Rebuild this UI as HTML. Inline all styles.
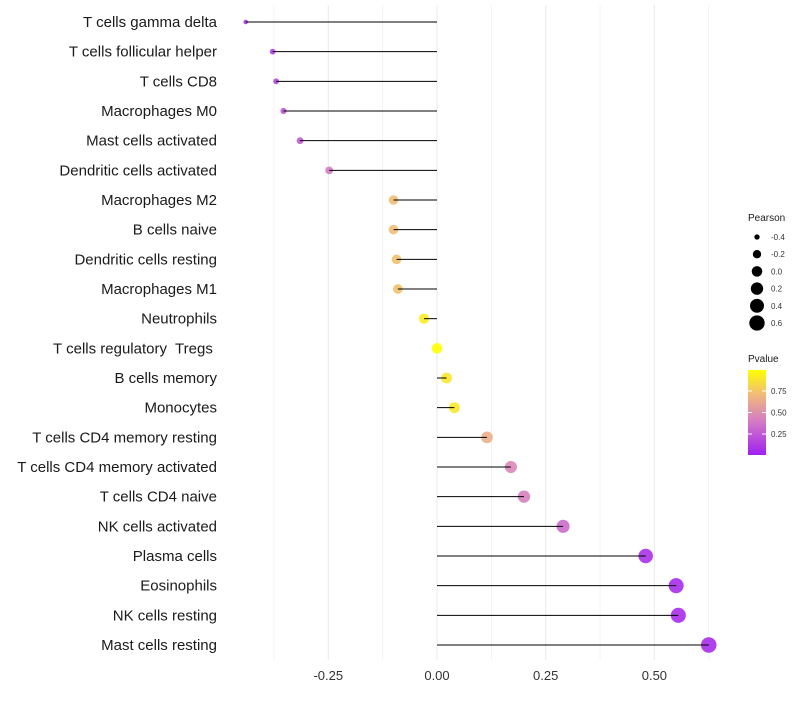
<!DOCTYPE html>
<html><head><meta charset="utf-8"><style>
body{margin:0;background:#fff;font-family:"Liberation Sans",sans-serif}
text{white-space:pre}
</style></head><body>
<svg id="c" width="800" height="700" style="font-family:'Liberation Sans',sans-serif">
<defs><linearGradient id="pg" x1="0" y1="1" x2="0" y2="0">
<stop offset="0" stop-color="#a020f0"/><stop offset="0.4" stop-color="#d47cc4"/><stop offset="0.7" stop-color="#f0b87c"/><stop offset="1" stop-color="#ffff00"/></linearGradient></defs>
</svg>
<script>
const categories=["T cells gamma delta","T cells follicular helper","T cells CD8","Macrophages M0","Mast cells activated","Dendritic cells activated","Macrophages M2","B cells naive","Dendritic cells resting","Macrophages M1","Neutrophils","T cells regulatory  Tregs ","B cells memory","Monocytes","T cells CD4 memory resting","T cells CD4 memory activated","T cells CD4 naive","NK cells activated","Plasma cells","Eosinophils","NK cells resting","Mast cells resting"];
const pearson=[-0.44,-0.378,-0.37,-0.353,-0.315,-0.248,-0.1,-0.1,-0.093,-0.09,-0.03,0.0,0.022,0.04,0.115,0.17,0.2,0.29,0.48,0.55,0.555,0.625];
const pvalues=[0.1,0.15,0.17,0.22,0.25,0.4,0.72,0.72,0.74,0.74,0.92,1.0,0.9,0.9,0.65,0.45,0.42,0.33,0.08,0.05,0.05,0.05];
const xTicks=[-0.25,0,0.25,0.5];
const xTickLabels=["-0.25","0.00","0.25","0.50"];
const sizeLegend=[-0.4,-0.2,0.0,0.2,0.4,0.6];
const sizeLegendLabels=["-0.4","-0.2","0.0","0.2","0.4","0.6"];
const colorTicks=[0.25,0.5,0.75];
const NS="http://www.w3.org/2000/svg",svg=document.getElementById('c');
const X=v=>437+v*434.8;
const Y=i=>22+i*29.667;
const R=v=>Math.sqrt(Math.max(1,5+52*(v+0.44)));
function col(p){const s=[[0,[160,32,240]],[0.4,[212,124,196]],[0.7,[240,184,124]],[1,[255,255,0]]];
 for(let k=1;k<s.length;k++){if(p<=s[k][0]){const t=(p-s[k-1][0])/(s[k][0]-s[k-1][0]);const a=s[k-1][1],b=s[k][1];return `rgb(${a.map((x,j)=>Math.round(x+(b[j]-x)*t)).join(',')})`;}}return 'rgb(255,255,0)';}
function el(t,a,txt){const e=document.createElementNS(NS,t);for(const k in a)e.setAttribute(k,a[k]);if(txt!==undefined)e.textContent=txt;svg.appendChild(e);return e;}
for(let k=-3;k<=5;k++){const v=k*0.125;const g=el('line',{x1:X(v),x2:X(v),y1:5,y2:660,stroke:'#ebebeb','stroke-width':k%2?0.6:1.1});

}
xTicks.forEach((v,i)=>{const t=el('text',{x:X(v),y:680,'font-size':13,'text-anchor':'middle',fill:'#333'},xTickLabels[i]);

});
categories.forEach((c,i)=>{const y=Y(i);
const t=el('text',{x:217,y:y+5,'font-size':15,'text-anchor':'end',fill:'#1a1a1a'},c);


const d=el('circle',{cx:X(pearson[i]),cy:y,r:R(pearson[i]),fill:col(pvalues[i]),'fill-opacity':0.9});


const l=el('line',{x1:X(0),x2:X(pearson[i]),y1:y,y2:y,stroke:'#000','stroke-width':1});

});
let t=el('text',{x:748,y:221,'font-size':10,fill:'#1a1a1a'},'Pearson');


sizeLegend.forEach((v,i)=>{const y=237+i*17.2;
const d=el('circle',{cx:757,cy:y,r:R(v),fill:'#000'});


const tt=el('text',{x:771,y:y+3,'font-size':8,fill:'#333'},sizeLegendLabels[i]);

});
t=el('text',{x:748,y:362,'font-size':10,fill:'#1a1a1a'},'Pvalue');


const cb=el('rect',{x:748,y:370,width:18,height:85,fill:'url(#pg)'});


colorTicks.forEach(p=>{const y=455.5-p*86;
const tk=el('line',{x1:748,x2:752,y1:y,y2:y,stroke:'#fff'});


const tk2=el('line',{x1:762,x2:766,y1:y,y2:y,stroke:'#fff'});


const tt=el('text',{x:771,y:y+3,'font-size':8,fill:'#333'},p.toFixed(2));

});
</script>
</body></html>
